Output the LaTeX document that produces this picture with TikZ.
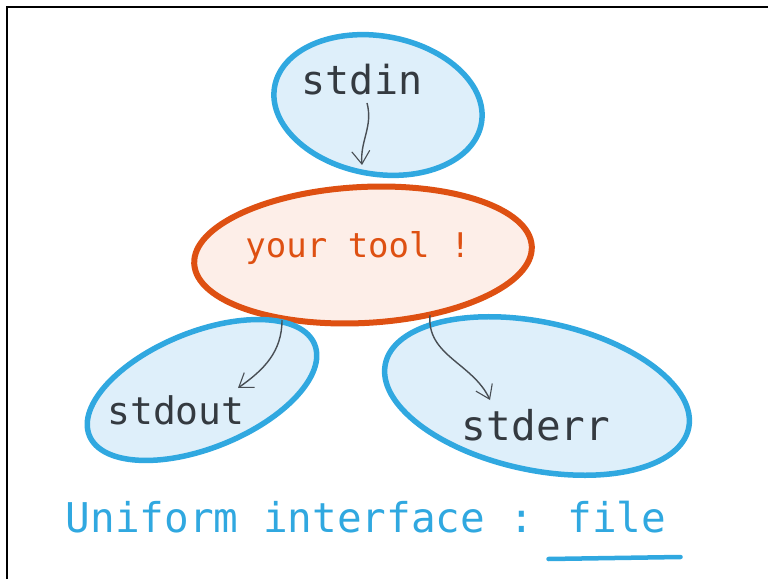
\documentclass[tikz,border=0pt]{standalone}
\usepackage{fontspec}
\usepackage{tikz}
\usetikzlibrary{arrows.meta,positioning,shapes.geometric}
\newfontfamily\hand{DejaVu Sans Mono}
\definecolor{skyline}{RGB}{48,168,224}
\definecolor{skyfill}{RGB}{222,239,250}
\definecolor{rust}{RGB}{222,80,18}
\definecolor{rustfill}{RGB}{253,238,232}
\definecolor{ink}{RGB}{52,58,64}
\definecolor{pencil}{RGB}{72,78,84}
\tikzset{
  blob/.style={ellipse,draw=skyline,fill=skyfill,line width=5.5pt,inner sep=0pt},
  blobt/.style={blob,draw=rust,fill=rustfill,line width=6pt},
  word/.style={font=\hand\fontsize{40}{40}\selectfont,text=ink,inner sep=0pt},
  wordt/.style={word,font=\hand\fontsize{34}{34}\selectfont,text=rust},
  flowarr/.style={-{Straight Barb[length=13pt,width=18pt,line width=1.1pt]},
                  line width=1.4pt,draw=pencil},
}
\begin{document}
\begin{tikzpicture}[x=1pt,y=1pt]
  \useasboundingbox (0,0) rectangle (768,579);
  % rand: alleen links en boven zichtbaar
  \draw[line width=1.2pt,black] (7,0) -- (7,572) -- (768,572);

  % de vier ovalen
  \node[blob,minimum width=210,minimum height=138,rotate=-10] (inb) at (378,474) {};
  \node[blobt,minimum width=338,minimum height=136,rotate=3] (toolb) at (363,324) {};
  \node[blob,minimum width=243,minimum height=116,rotate=22] (outb) at (202,189) {};
  \node[blob,minimum width=310,minimum height=148,rotate=-12] (errb) at (537,183) {};

  \node[word] (in) at (362,499) {stdin};
  \node[wordt] (tool) at (358,331) {your tool !};
  \node[word,font=\hand\fontsize{38}{38}\selectfont] (out) at (176,169) {stdout};
  \node[word,font=\hand\fontsize{41}{41}\selectfont] (err) at (536,154) {stderr};

  % potloodpijlen
  \draw[flowarr] ([shift={(-11,2)}]inb.center) to[out=-75,in=95]
    ([shift={(-16,-60)}]inb.center);
  \draw[flowarr] ([shift={(-81,-65)}]toolb.center) to[out=-90,in=35]
    ([shift={(36,2)}]outb.center);
  \draw[flowarr] ([shift={(67,-60)}]toolb.center) to[out=-95,in=115]
    ([shift={(-47,-4)}]errb.center);

  % onderschrift met streep onder 'file'
  \node[word,font=\hand\fontsize{41}{41}\selectfont,text=skyline] (motto) at (366,62)
    {Uniform interface : file};
  \draw[skyline,line width=4.5pt,line cap=round]
    ([shift={(-118,-42)}]motto.east) -- ([shift={(14,-40)}]motto.east);
\end{tikzpicture}
\end{document}
